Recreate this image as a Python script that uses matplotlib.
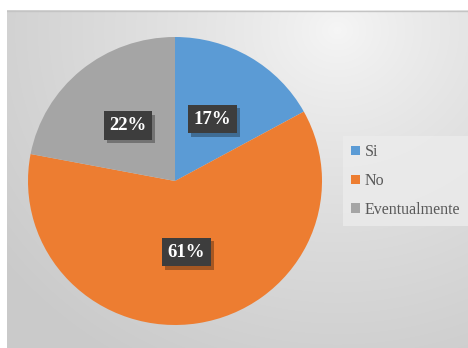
import numpy as np
import matplotlib
matplotlib.use("Agg")
import matplotlib.pyplot as plt
import matplotlib.patheffects as pe

# Respuestas de la encuesta
labels = ["Si", "No", "Eventualmente"]
values = [17, 61, 22]
colors = ["#5B9BD5", "#ED7D31", "#A5A5A5"]

W, H = 468, 348
fig = plt.figure(figsize=(W / 100, H / 100), dpi=100)
fig.patch.set_facecolor("white")

# Fondo gris con degradado radial
bg = fig.add_axes([7 / W, 0, (W - 7) / W, (H - 10) / H])
bg.set_axis_off()
ny, nx = 338, 461
yy, xx = np.mgrid[0:ny, 0:nx]
d = np.sqrt((xx - 330) ** 2 + ((yy - 20) * 1.1) ** 2) / 420
d = np.clip(d, 0, 1)
shade = 0.965 - 0.17 * d ** 0.8
bg.imshow(np.dstack([shade] * 3), aspect="auto", extent=[0, nx, ny, 0])
bg.plot([0, nx], [0.5, 0.5], color="#c4c4c4", lw=1)
bg.set_xlim(0, nx)
bg.set_ylim(ny, 0)

# Circulo
cx, cy, rx, ry = 175, 181, 147, 144
ax = fig.add_axes([(cx - rx) / W, (H - cy - ry) / H, 2 * rx / W, 2 * ry / H])
ax.set_axis_off()
wedges, _ = ax.pie(values, colors=colors, startangle=90, counterclock=False,
                   radius=1, wedgeprops=dict(linewidth=0))
ax.set_xlim(-1, 1)
ax.set_ylim(-1, 1)
ax.set_aspect("auto")

# Etiquetas de porcentaje con caja oscura y sombra
total = sum(values)
start = 90.0
for v in values:
    ang = np.deg2rad(start - 360 * v / total / 2)
    start -= 360 * v / total
    x, y = 0.5 * np.cos(ang), 0.5 * np.sin(ang)
    t = ax.text(x, y, f"{v}%", ha="center", va="center", fontsize=13.5,
                fontweight="bold", family="Liberation Serif", color="white",
                bbox=dict(boxstyle="square,pad=0.3", fc="#3d3d3d", ec="none"))
    t.get_bbox_patch().set_path_effects([
        pe.SimplePatchShadow(offset=(2, -2.5), shadow_rgbFace="black", alpha=0.3),
        pe.Normal()])

# Leyenda
leg = fig.legend(wedges, labels, loc="center left", bbox_to_anchor=(343 / W, 1 - 181 / H),
                 frameon=True, fancybox=False, handlelength=0.55, handleheight=0.55,
                 handletextpad=0.3, labelspacing=0.8, borderpad=0.5, borderaxespad=0,
                 prop=dict(family="Liberation Serif", size=11.5))
leg.get_frame().set_facecolor("#ececec")
leg.get_frame().set_edgecolor("none")
leg.get_frame().set_alpha(0.8)
for t in leg.get_texts():
    t.set_color("#595959")

fig.savefig("out.png", dpi=100)
